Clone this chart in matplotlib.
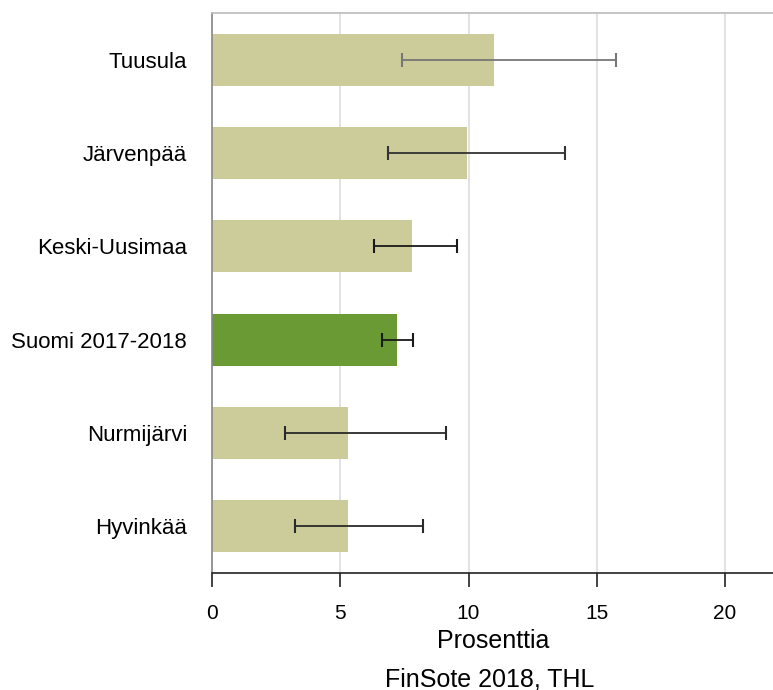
import numpy as np
import matplotlib.pyplot as plt

plt.rcParams['font.family'] = ['Liberation Sans', 'DejaVu Sans']

categories = ['Tuusula', 'Järvenpää', 'Keski-Uusimaa', 'Suomi 2017-2018', 'Nurmijärvi', 'Hyvinkää']
values = [11.0, 9.93, 7.8, 7.2, 5.3, 5.3]
err_low = [7.42, 6.85, 6.33, 6.63, 2.85, 3.24]
err_high = [15.74, 13.75, 9.56, 7.83, 9.14, 8.23]

colors = ['#CBCC99', '#CBCC99', '#CBCC99', '#6A9A34', '#CBCC99', '#CBCC99']
ecolors = ['#777777', '#333333', '#1a1a1a', '#1a1a1a', '#2a2a2a', '#2a2a2a']

fig = plt.figure(figsize=(7.73, 6.9), dpi=100)
ax = fig.add_axes([0.2743, 0.1696, 0.7283, 0.8116])

y = np.arange(len(categories))
ax.barh(y, values, height=0.56, color=colors, zorder=2)
for i in range(len(categories)):
    ax.errorbar(values[i], y[i],
                xerr=[[values[i] - err_low[i]], [err_high[i] - values[i]]],
                fmt='none', ecolor=ecolors[i], elinewidth=1.3, capsize=5, capthick=1.5, zorder=3)

ax.set_xlim(0, 21.95)
ax.set_ylim(len(categories) - 0.5, -0.5)
ax.set_yticks(y)
ax.set_yticklabels(categories, fontsize=16)
ax.set_xticks([0, 5, 10, 15, 20])
ax.tick_params(axis='y', length=0, pad=18)
ax.tick_params(axis='x', direction='out', length=10, width=1.2, color='#222222', labelsize=15, pad=12.5)
ax.xaxis.grid(True, color='#DDDDDD', linewidth=1.2, zorder=0)
ax.set_axisbelow(True)

ax.spines['right'].set_visible(False)
ax.spines['top'].set_color('#BBBBBB')
ax.spines['top'].set_linewidth(1.2)
ax.spines['left'].set_color('#888888')
ax.spines['left'].set_linewidth(1.2)
ax.spines['bottom'].set_color('#222222')
ax.spines['bottom'].set_linewidth(1.2)

ax.set_xlabel('Prosenttia', fontsize=18, va='baseline')
ax.xaxis.set_label_coords(0.5, -0.1339)
fig.text(490 / 773, 1 - 686 / 690, 'FinSote 2018, THL', fontsize=18, ha='center', va='baseline')

fig.savefig('out.png', dpi=100)
